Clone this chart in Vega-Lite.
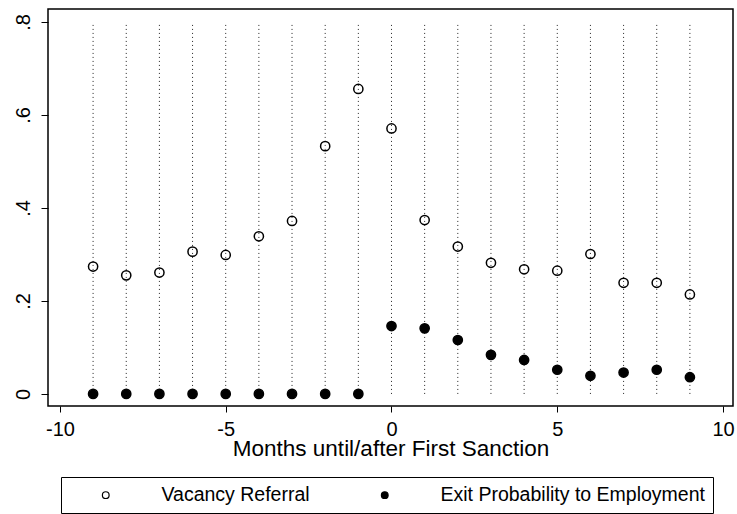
{
  "$schema": "https://vega.github.io/schema/vega-lite/v6.json",
  "autosize": "none",
  "width": 685,
  "height": 397,
  "padding": {"left": 48, "top": 9, "right": 4, "bottom": 108},
  "background": "white",
  "config": {
    "view": {"stroke": "black", "strokeWidth": 1.5},
    "font": "Liberation Sans"
  },
  "data": {
    "values": [
      {"month": -9, "series": "Vacancy Referral", "value": 0.274},
      {"month": -8, "series": "Vacancy Referral", "value": 0.255},
      {"month": -7, "series": "Vacancy Referral", "value": 0.261},
      {"month": -6, "series": "Vacancy Referral", "value": 0.306},
      {"month": -5, "series": "Vacancy Referral", "value": 0.299},
      {"month": -4, "series": "Vacancy Referral", "value": 0.339},
      {"month": -3, "series": "Vacancy Referral", "value": 0.372},
      {"month": -2, "series": "Vacancy Referral", "value": 0.533},
      {"month": -1, "series": "Vacancy Referral", "value": 0.656},
      {"month": 0, "series": "Vacancy Referral", "value": 0.571},
      {"month": 1, "series": "Vacancy Referral", "value": 0.374},
      {"month": 2, "series": "Vacancy Referral", "value": 0.317},
      {"month": 3, "series": "Vacancy Referral", "value": 0.282},
      {"month": 4, "series": "Vacancy Referral", "value": 0.268},
      {"month": 5, "series": "Vacancy Referral", "value": 0.265},
      {"month": 6, "series": "Vacancy Referral", "value": 0.301},
      {"month": 7, "series": "Vacancy Referral", "value": 0.239},
      {"month": 8, "series": "Vacancy Referral", "value": 0.239},
      {"month": 9, "series": "Vacancy Referral", "value": 0.214},
      {"month": -9, "series": "Exit Probability to Employment", "value": 0},
      {"month": -8, "series": "Exit Probability to Employment", "value": 0},
      {"month": -7, "series": "Exit Probability to Employment", "value": 0},
      {"month": -6, "series": "Exit Probability to Employment", "value": 0},
      {"month": -5, "series": "Exit Probability to Employment", "value": 0},
      {"month": -4, "series": "Exit Probability to Employment", "value": 0},
      {"month": -3, "series": "Exit Probability to Employment", "value": 0},
      {"month": -2, "series": "Exit Probability to Employment", "value": 0},
      {"month": -1, "series": "Exit Probability to Employment", "value": 0},
      {"month": 0, "series": "Exit Probability to Employment", "value": 0.146},
      {"month": 1, "series": "Exit Probability to Employment", "value": 0.141},
      {"month": 2, "series": "Exit Probability to Employment", "value": 0.116},
      {"month": 3, "series": "Exit Probability to Employment", "value": 0.084},
      {"month": 4, "series": "Exit Probability to Employment", "value": 0.073},
      {"month": 5, "series": "Exit Probability to Employment", "value": 0.052},
      {"month": 6, "series": "Exit Probability to Employment", "value": 0.039},
      {"month": 7, "series": "Exit Probability to Employment", "value": 0.046},
      {"month": 8, "series": "Exit Probability to Employment", "value": 0.052},
      {"month": 9, "series": "Exit Probability to Employment", "value": 0.036}
    ]
  },
  "encoding": {
    "x": {
      "field": "month",
      "type": "quantitative",
      "scale": {"domain": [-10.36, 10.3], "nice": false, "zero": false},
      "axis": {
        "values": [-10, -5, 0, 5, 10],
        "labelExpr": "'' + datum.value",
        "title": "Months until/after First Sanction",
        "grid": false,
        "domain": false,
        "tickColor": "black",
        "tickSize": 6,
        "labelFontSize": 20,
        "labelColor": "black",
        "labelPadding": 7,
        "titleFontSize": 22.5,
        "titleFontWeight": "normal",
        "titleColor": "black",
        "titlePadding": -2
      }
    }
  },
  "layer": [
    {
      "transform": [{"filter": "datum.series == 'Vacancy Referral'"}],
      "mark": {"type": "rule", "strokeDash": [1, 3], "strokeWidth": 1, "color": "#222222"},
      "encoding": {
        "y": {"datum": 0},
        "y2": {"datum": 0.8}
      }
    },
    {
      "mark": {"type": "point", "shape": "circle", "stroke": "black", "strokeWidth": 1.5, "size": 85, "opacity": 1},
      "encoding": {
        "y": {
          "field": "value",
          "type": "quantitative",
          "scale": {"domain": [-0.026, 0.828], "nice": false, "zero": false},
          "axis": {
            "values": [0, 0.2, 0.4, 0.6, 0.8],
            "labelExpr": "datum.value == 0 ? '0' : replace(format(datum.value, '.1f'), '0.', '.')",
            "title": null,
            "grid": false,
            "domain": false,
            "tickColor": "black",
            "tickSize": 7,
            "labelAngle": -90,
            "labelFontSize": 20,
            "labelColor": "black",
            "labelPadding": 8
          }
        },
        "fill": {
          "field": "series",
          "type": "nominal",
          "scale": {"domain": ["Vacancy Referral", "Exit Probability to Employment"], "range": ["transparent", "black"]},
          "legend": {
            "orient": "none",
            "legendX": 13,
            "legendY": 468,
            "direction": "horizontal",
            "title": "\u00a0",
            "titleOrient": "left",
            "titlePadding": 27,
            "titleFontSize": 19,
            "padding": 8,
            "strokeColor": "black",
            "fillColor": "white",
            "symbolType": "circle",
            "symbolSize": 45,
            "symbolStrokeColor": "black",
            "symbolStrokeWidth": 1.2,
            "labelFontSize": 19.5,
            "labelColor": "black",
            "labelOffset": 46,
            "columnPadding": 65,
            "labelLimit": 400
          }
        }
      }
    }
  ]
}
